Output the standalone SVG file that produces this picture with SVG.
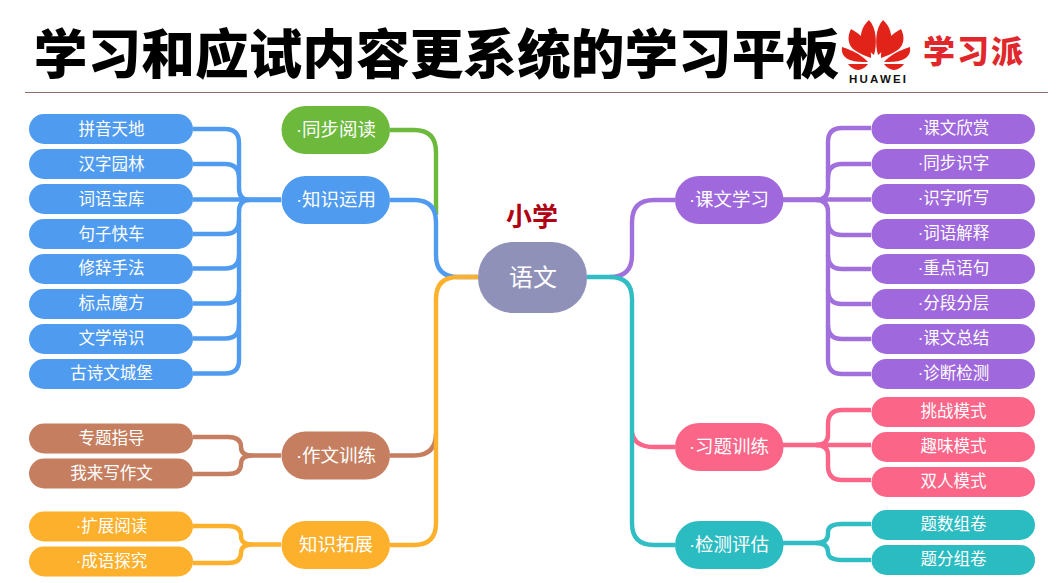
<svg xmlns="http://www.w3.org/2000/svg" width="1057" height="583" viewBox="0 0 1057 583">
<defs>
<g id="petals">
<path d="M878 55C875 45 875 28 883 20C890 26 893 36 890 43C887 48 882 52 878 55Z"/>
<path d="M881 58C880 45 890 35 901 29C905 37 904 44 899 49C894 53 887 56 881 58Z"/>
<path d="M884 62C890 55 900 50 910 47C911 53 908 58 902 60C897 62 890 62 884 62Z"/>
<path d="M884 64H904C901 68 897 70 893 70C889 69 886 67 884 64Z"/>
</g>
</defs>
<style>
text{font-family:"Liberation Sans","Noto Sans CJK SC",sans-serif;text-anchor:middle;fill:#fff}
.leaf{font-size:16.5px}.mid{font-size:18.5px}
.c{fill:none;stroke-width:4.400;stroke-linejoin:round}
.blue{fill:#4f9bef}.green{fill:#6cb93c}.brown{fill:#c57f60}.orange{fill:#fdb02c}.purple{fill:#9f68dc}.pink{fill:#fb6588}.teal{fill:#2bbcc2}
.sb{stroke:#4f9bef}.sg{stroke:#6cb93c}.sr{stroke:#c57f60}.so{stroke:#fdb02c}.sp{stroke:#a270dd}.sk{stroke:#fb6588}.st{stroke:#30bec4}
.red{fill:#e2231a}
</style>
<rect width="1057" height="583" fill="#fff"/>
<g id="header">
<text x="436.500" y="74" style="font-size:53.700px;font-weight:900;fill:#000">学习和应试内容更系统的学习平板</text>
<path d="M25 92.500H1048" stroke="#8f6a64" stroke-width="1" fill="none"/>
</g>
<g id="logo">
<g class="red">
<use href="#petals"/>
<use href="#petals" transform="matrix(-1 0 0 1 1752 0)"/>
</g>
<text x="877.500" y="82.500" textLength="57" lengthAdjust="spacing" style="font-size:11.500px;font-weight:700;fill:#111">HUAWEI</text>
<text x="973" y="63" textLength="100" lengthAdjust="spacing" style="font-size:32px;font-weight:900;fill:#e0282c">学习派</text>
</g>
<g id="connectors">
<path class="c sg" d="M390 130H414Q436 130 436 152V215"/>
<path class="c sb" d="M390 200H414Q436 200 436 222V255Q436 277 458 277H478"/>
<path class="c sr" d="M390 455.500H414Q436 455.500 436 433"/>
<path class="c so" d="M478 277H458Q436 277 436 299V523Q436 545 414 545H390"/>
<path class="c sp" d="M610 277Q632 277 632 255V222Q632 200 654 200H675"/>
<path class="c sk" d="M675 447H654Q634 447 632 432"/>
<path class="c st" d="M587 277H610Q632 277 632 299V523Q632 545 654 545H675"/>
<g class="sb">
<path class="c" d="M193 129H225Q239 129 239 143V188Q239 200 249 200H281"/>
<path class="c" d="M193 164H225Q239 164 239 178"/>
<path class="c" d="M193 199.500H281"/>
<path class="c" d="M193 373.500H225Q239 373.500 239 360V212Q239 200 249 200"/>
<path class="c" d="M193 234H225Q239 234 239 220"/>
<path class="c" d="M193 268.500H225Q239 268.500 239 255"/>
<path class="c" d="M193 303.500H225Q239 303.500 239 290"/>
<path class="c" d="M193 338.500H225Q239 338.500 239 325"/>
</g>
<g class="sr">
<path class="c" d="M193 437H228Q241 437 241 447Q241 455.500 252 455.500H281"/>
<path class="c" d="M193 474H228Q241 474 241 464Q241 455.500 252 455.500"/>
</g>
<g class="so">
<path class="c" d="M193 526H228Q241 526 241 536Q241 544.500 252 544.500H281"/>
<path class="c" d="M193 563H228Q241 563 241 553Q241 544.500 252 544.500"/>
</g>
<g class="sp">
<path class="c" d="M871 128H842Q828 128 828 142V188Q828 200 816 200H783"/>
<path class="c" d="M871 164H842Q828 164 828 178"/>
<path class="c" d="M871 199.500H783"/>
<path class="c" d="M871 374H842Q828 374 828 360V212Q828 200 816 200"/>
<path class="c" d="M871 235H842Q828 235 828 221"/>
<path class="c" d="M871 269H842Q828 269 828 255"/>
<path class="c" d="M871 304H842Q828 304 828 290"/>
<path class="c" d="M871 339H842Q828 339 828 325"/>
</g>
<g class="sk">
<path class="c" d="M871 410H842Q828 410 828 424V435Q828 445 816 445H783"/>
<path class="c" d="M871 445H816"/>
<path class="c" d="M871 480H842Q828 480 828 466V455Q828 445 816 445"/>
</g>
<g class="st">
<path class="c" d="M871 524H842Q828 524 828 532V534Q828 543 816 543H783"/>
<path class="c" d="M871 560H842Q828 560 828 552V552Q828 543 816 543"/>
</g>
</g>
<g id="center"><rect x="478" y="242" width="109" height="71" rx="35" fill="#8f91b8"/><text x="533" y="286" style="font-size:24px">语文</text></g>
<g id="grade"><text x="532" y="226" style="font-size:26px;font-weight:700;fill:#b00012">小学</text></g>
<g id="n-tongbu"><rect class="green" x="281.500" y="106" width="108.500" height="48" rx="24"/><text class="mid" x="336" y="136">·同步阅读</text></g>
<g id="n-zhishi"><rect class="blue" x="281.500" y="176" width="108.500" height="48" rx="24"/><text class="mid" x="336" y="206">·知识运用</text></g>
<g id="n-zuowen"><rect class="brown" x="281.500" y="431.500" width="108.500" height="48" rx="24"/><text class="mid" x="336" y="461.500">·作文训练</text></g>
<g id="n-tuozhan"><rect class="orange" x="281.500" y="521" width="108.500" height="48" rx="24"/><text class="mid" x="336" y="551">知识拓展</text></g>
<g id="n-kewen"><rect class="purple" x="675" y="176" width="108.500" height="48" rx="24"/><text class="mid" x="729" y="206">·课文学习</text></g>
<g id="n-xiti"><rect class="pink" x="675" y="423" width="108.500" height="48" rx="24"/><text class="mid" x="729" y="453">·习题训练</text></g>
<g id="n-jiance"><rect class="teal" x="675" y="521" width="108.500" height="48" rx="24"/><text class="mid" x="729" y="551">·检测评估</text></g>
<g id="l1"><rect class="blue" x="29" y="114" width="164" height="30" rx="15"/><text class="leaf" x="111.500" y="134.500">拼音天地</text></g>
<g id="l2"><rect class="blue" x="29" y="149" width="164" height="30" rx="15"/><text class="leaf" x="111.500" y="169.500">汉字园林</text></g>
<g id="l3"><rect class="blue" x="29" y="184" width="164" height="30" rx="15"/><text class="leaf" x="111.500" y="204.500">词语宝库</text></g>
<g id="l4"><rect class="blue" x="29" y="219" width="164" height="30" rx="15"/><text class="leaf" x="111.500" y="239.500">句子快车</text></g>
<g id="l5"><rect class="blue" x="29" y="254" width="164" height="30" rx="15"/><text class="leaf" x="111.500" y="274">修辞手法</text></g>
<g id="l6"><rect class="blue" x="29" y="289" width="164" height="30" rx="15"/><text class="leaf" x="111.500" y="309">标点魔方</text></g>
<g id="l7"><rect class="blue" x="29" y="324" width="164" height="30" rx="15"/><text class="leaf" x="111.500" y="344">文学常识</text></g>
<g id="l8"><rect class="blue" x="29" y="359" width="164" height="30" rx="15"/><text class="leaf" x="111.500" y="379">古诗文城堡</text></g>
<g id="l9"><rect class="brown" x="29" y="423.500" width="164" height="30" rx="15"/><text class="leaf" x="111.500" y="444">专题指导</text></g>
<g id="l10"><rect class="brown" x="29" y="458.500" width="164" height="30" rx="15"/><text class="leaf" x="111.500" y="479">我来写作文</text></g>
<g id="l11"><rect class="orange" x="29" y="511.500" width="164" height="30" rx="15"/><text class="leaf" x="111.500" y="532">·扩展阅读</text></g>
<g id="l12"><rect class="orange" x="29" y="546.500" width="164" height="30" rx="15"/><text class="leaf" x="111.500" y="567">·成语探究</text></g>
<g id="r1"><rect class="purple" x="871.500" y="114" width="163.500" height="30" rx="15"/><text class="leaf" x="953.500" y="134">·课文欣赏</text></g>
<g id="r2"><rect class="purple" x="871.500" y="149" width="163.500" height="30" rx="15"/><text class="leaf" x="953.500" y="169">·同步识字</text></g>
<g id="r3"><rect class="purple" x="871.500" y="184" width="163.500" height="30" rx="15"/><text class="leaf" x="953.500" y="204">·识字听写</text></g>
<g id="r4"><rect class="purple" x="871.500" y="219" width="163.500" height="30" rx="15"/><text class="leaf" x="953.500" y="239">·词语解释</text></g>
<g id="r5"><rect class="purple" x="871.500" y="254" width="163.500" height="30" rx="15"/><text class="leaf" x="953.500" y="274">·重点语句</text></g>
<g id="r6"><rect class="purple" x="871.500" y="289" width="163.500" height="30" rx="15"/><text class="leaf" x="953.500" y="309">·分段分层</text></g>
<g id="r7"><rect class="purple" x="871.500" y="324" width="163.500" height="30" rx="15"/><text class="leaf" x="953.500" y="344">·课文总结</text></g>
<g id="r8"><rect class="purple" x="871.500" y="359" width="163.500" height="30" rx="15"/><text class="leaf" x="953.500" y="379">·诊断检测</text></g>
<g id="r9"><rect class="pink" x="871.500" y="397" width="163.500" height="30" rx="15"/><text class="leaf" x="953.500" y="417">挑战模式</text></g>
<g id="r10"><rect class="pink" x="871.500" y="432" width="163.500" height="30" rx="15"/><text class="leaf" x="953.500" y="452">趣味模式</text></g>
<g id="r11"><rect class="pink" x="871.500" y="467" width="163.500" height="30" rx="15"/><text class="leaf" x="953.500" y="487">双人模式</text></g>
<g id="r12"><rect class="teal" x="871.500" y="510" width="163.500" height="30" rx="15"/><text class="leaf" x="953.500" y="530">题数组卷</text></g>
<g id="r13"><rect class="teal" x="871.500" y="545" width="163.500" height="30" rx="15"/><text class="leaf" x="953.500" y="565">题分组卷</text></g>
</svg>
